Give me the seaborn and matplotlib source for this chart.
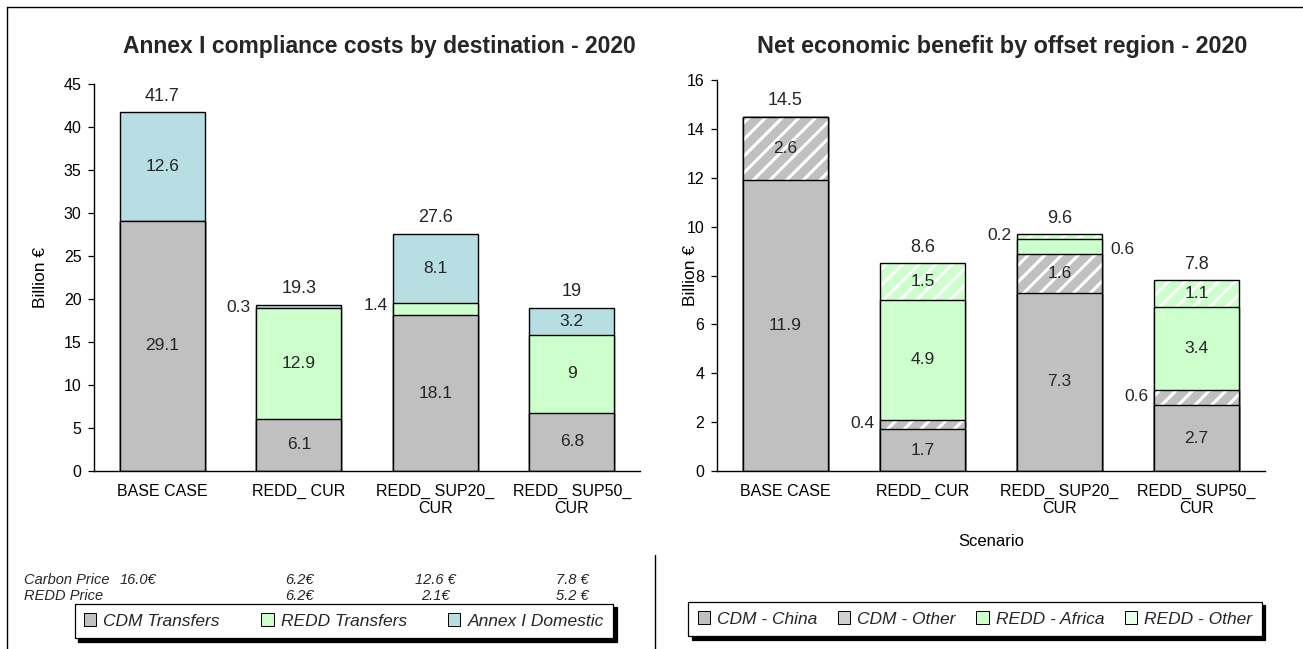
import matplotlib
matplotlib.use("Agg")
import matplotlib.pyplot as plt
import seaborn as sns
import numpy as np
from matplotlib.patches import Patch
from matplotlib.lines import Line2D

# ---------------- data ----------------
scenarios = ["BASE CASE", "REDD_ CUR", "REDD_ SUP20_\nCUR", "REDD_ SUP50_\nCUR"]

# left chart: Annex I compliance costs by destination (billion EUR)
cdm_transfers = [29.1, 6.1, 18.1, 6.8]
redd_transfers = [0.0, 12.9, 1.4, 9.0]
annex_domestic = [12.6, 0.3, 8.1, 3.2]
left_totals = ["41.7", "19.3", "27.6", "19"]

carbon_price = ["16.0€", "6.2€", "12.6 €", "7.8 €"]
redd_price = ["", "6.2€", "2.1€", "5.2 €"]

# right chart: net economic benefit by offset region (billion EUR)
cdm_china = [11.9, 1.7, 7.3, 2.7]
cdm_other = [2.6, 0.4, 1.6, 0.6]
redd_africa = [0.0, 4.9, 0.6, 3.4]
redd_other = [0.0, 1.5, 0.2, 1.1]
right_totals = ["14.5", "8.6", "9.6", "7.8"]

# ---------------- style ----------------
sns.set_theme(style="white")
plt.rcParams["font.family"] = ["Liberation Sans", "DejaVu Sans"]
plt.rcParams["hatch.linewidth"] = 2.2

GREY = "#C0C0C0"
GREEN = "#CCFFCC"
BLUE = "#B7DEE3"

W, H = 1303, 649
fig = plt.figure(figsize=(W / 100, H / 100), dpi=100)
fig.patch.set_facecolor("white")

axL = fig.add_axes([94 / W, (H - 471) / H, 546 / W, 387 / H])
axR = fig.add_axes([717 / W, (H - 471) / H, 548 / W, 391 / H])

BAR_W = 0.62
VAL_FS = 12.5
TOT_FS = 13


def draw_stack(ax, layers):
    """layers: list of (values, color, hatch) from bottom to top."""
    cums = np.cumsum([np.array(v, dtype=float) for v, _, _ in layers], axis=0)
    for i in range(len(layers) - 1, -1, -1):
        _, color, hatch = layers[i]
        sns.barplot(x=scenarios, y=cums[i], order=scenarios, color=color,
                    saturation=1, width=BAR_W, errorbar=None, ax=ax)
        for p in ax.containers[-1].patches:
            p.set_facecolor(color)
            p.set_linewidth(0)
            if hatch:
                p.set_edgecolor("white")
                p.set_hatch(hatch)
            else:
                p.set_edgecolor(color)
        sns.barplot(x=scenarios, y=cums[i], order=scenarios, color="black",
                    fill=False, width=BAR_W, errorbar=None, ax=ax)
        for p in ax.containers[-1].patches:
            p.set_facecolor("none")
            p.set_edgecolor("black")
            p.set_linewidth(1.0)
    return cums


def style_axes(ax, ymax, step):
    ax.set_ylim(0, ymax)
    ax.set_xlim(-0.5, 3.5)
    ax.set_yticks(np.arange(0, ymax + 0.01, step))
    for s in ["top", "right"]:
        ax.spines[s].set_visible(False)
    for s in ["left", "bottom"]:
        ax.spines[s].set_color("black")
        ax.spines[s].set_linewidth(1.0)
    ax.tick_params(axis="y", which="major", left=True, length=4, width=0.9,
                   color="black", labelsize=11.5, pad=5, labelcolor="black")
    ax.tick_params(axis="x", length=0, labelsize=11.5, pad=9, labelcolor="black")
    ax.set_ylabel("Billion €", fontsize=12.5, color="black")
    ax.grid(False)


# ---------------- left chart ----------------
cL = draw_stack(axL, [(cdm_transfers, GREY, None),
                      (redd_transfers, GREEN, None),
                      (annex_domestic, BLUE, None)])
style_axes(axL, 45, 5)
axL.set_xlabel("")
axL.yaxis.set_label_coords((48 - 94) / 546, 0.5)

segL = [cdm_transfers, redd_transfers, annex_domestic]
for j in range(4):
    bottom = 0.0
    for k, vals in enumerate(segL):
        v = vals[j]
        if v > 0:
            mid = bottom + v / 2
            txt = f"{v:g}"
            if v >= 2:
                axL.text(j, mid, txt, ha="center", va="center", fontsize=VAL_FS)
            else:
                axL.text(j - BAR_W / 2 - 0.04, bottom + v - 0.3, txt, ha="right",
                         va="center", fontsize=VAL_FS)
        bottom += v
    axL.text(j, cL[-1][j] + 0.9, left_totals[j], ha="center", va="bottom",
             fontsize=TOT_FS)

fig.text(379 / W, 1 - 46 / H, "Annex I compliance costs by destination - 2020",
         ha="center", va="center", fontsize=16.5, fontweight="bold")

# price rows
fig.text(24 / W, 1 - 580 / H, "Carbon Price", ha="left", va="center",
         fontsize=10.5, style="italic")
fig.text(24 / W, 1 - 596 / H, "REDD Price", ha="left", va="center",
         fontsize=10.5, style="italic")
price_x = [138, 299, 435, 572]
for j in range(4):
    fig.text(price_x[j] / W, 1 - 580 / H, carbon_price[j], ha="center",
             va="center", fontsize=10.5, style="italic")
    if redd_price[j]:
        fig.text(price_x[j] / W, 1 - 596 / H, redd_price[j], ha="center",
                 va="center", fontsize=10.5, style="italic")

# ---------------- right chart ----------------
cR = draw_stack(axR, [(cdm_china, GREY, None),
                      (cdm_other, GREY, "//"),
                      (redd_africa, GREEN, None),
                      (redd_other, GREEN, "//")])
style_axes(axR, 16, 2)
axR.set_xlabel("Scenario", fontsize=12, color="black", labelpad=13)
axR.yaxis.set_label_coords((698 - 717) / 548, 0.5)

segR = [cdm_china, cdm_other, redd_africa, redd_other]
for j in range(4):
    bottom = 0.0
    for k, vals in enumerate(segR):
        v = vals[j]
        if v > 0:
            mid = bottom + v / 2
            txt = f"{v:g}"
            if v >= 1.0:
                axR.text(j, mid, txt, ha="center", va="center", fontsize=VAL_FS)
            elif j == 2 and k == 2:
                axR.text(j + BAR_W / 2 + 0.06, mid - 0.15, txt, ha="left",
                         va="center", fontsize=VAL_FS)
            else:
                axR.text(j - BAR_W / 2 - 0.04, mid + 0.05, txt, ha="right",
                         va="center", fontsize=VAL_FS)
        bottom += v
    axR.text(j, cR[-1][j] + 0.3, right_totals[j], ha="center", va="bottom",
             fontsize=TOT_FS)

fig.text(1002 / W, 1 - 46 / H, "Net economic benefit by offset region - 2020",
         ha="center", va="center", fontsize=16.8, fontweight="bold")

# ---------------- legends ----------------
shadow = {"color": "black", "alpha": 1.0, "ox": 2.5, "oy": -2.5}
hL = [Patch(facecolor=GREY, edgecolor="black", linewidth=0.7),
      Patch(facecolor=GREEN, edgecolor="black", linewidth=0.7),
      Patch(facecolor=BLUE, edgecolor="black", linewidth=0.7)]
legL = fig.legend(hL, ["CDM Transfers", "REDD Transfers", "Annex I Domestic"],
                  loc="center", bbox_to_anchor=(344 / W, 1 - 621 / H), ncol=3,
                  frameon=True, fancybox=False, shadow=shadow, edgecolor="black",
                  handlelength=0.7, handleheight=0.7, handletextpad=0.4,
                  columnspacing=2.4, borderpad=0.55,
                  prop={"size": 12.5, "style": "italic"})
legL.get_frame().set_linewidth(0.9)

hR = [Patch(facecolor=GREY, edgecolor="black", linewidth=0.7),
      Patch(facecolor="#D0D0D0", edgecolor="black", linewidth=0.7),
      Patch(facecolor=GREEN, edgecolor="black", linewidth=0.7),
      Patch(facecolor="#E8FFE8", edgecolor="black", linewidth=0.7)]
legR = fig.legend(hR, ["CDM - China", "CDM - Other", "REDD - Africa", "REDD - Other"],
                  loc="center", bbox_to_anchor=(975 / W, 1 - 619 / H), ncol=4,
                  frameon=True, fancybox=False, shadow=shadow, edgecolor="black",
                  handlelength=0.7, handleheight=0.7, handletextpad=0.4,
                  columnspacing=1.2, borderpad=0.55,
                  prop={"size": 12.5, "style": "italic"})
legR.get_frame().set_linewidth(0.9)

# ---------------- outer border lines ----------------
fig.add_artist(Line2D([7 / W, 1.0], [1 - 7 / H, 1 - 7 / H], color="black", lw=1.0,
                      transform=fig.transFigure))
fig.add_artist(Line2D([7 / W, 7 / W], [0, 1 - 7 / H], color="black", lw=1.0,
                      transform=fig.transFigure))
fig.add_artist(Line2D([655 / W, 655 / W], [0, 1 - 555 / H], color="black", lw=1.0,
                      transform=fig.transFigure))

fig.savefig("out.png", dpi=100, facecolor="white")
